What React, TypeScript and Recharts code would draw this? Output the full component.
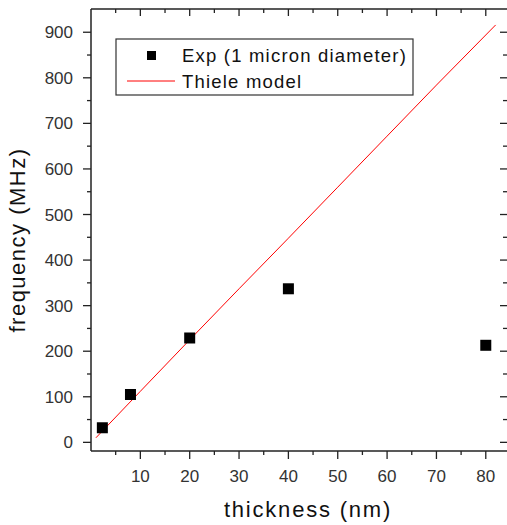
import { ComposedChart, Line, Scatter, XAxis, YAxis } from 'recharts';

const thickness = [2.3, 8, 20, 40, 80];
const freqExp = [32, 105, 229, 337, 213];

const modelThickness = [1, 10, 20, 30, 40, 50, 60, 70, 82];
const modelFreq = [10, 112, 225, 337, 448, 560, 672, 784, 916];

const xTicks = [5, 10, 15, 20, 25, 30, 35, 40, 45, 50, 55, 60, 65, 70, 75, 80];
const yTicks = [0, 50, 100, 150, 200, 250, 300, 350, 400, 450, 500, 550, 600, 650, 700, 750, 800, 850, 900];

const X_DOMAIN = [0, 84.3];
const Y_DOMAIN = [-19, 951];

const expData = thickness.map((x, i) => ({ x, y: freqExp[i] }));
const modelData = modelThickness.map((x, i) => ({ x, y: modelFreq[i] }));

const FONT = '"Liberation Sans", Arial, sans-serif';
const AXIS = '#222';

// plot box (same as chart margins / axis sizes below)
const PLOT = { left: 91, top: 9, right: 507, bottom: 451 };
const sx = (v: number) => PLOT.left + ((v - X_DOMAIN[0]) / (X_DOMAIN[1] - X_DOMAIN[0])) * (PLOT.right - PLOT.left);
const sy = (v: number) => PLOT.bottom - ((v - Y_DOMAIN[0]) / (Y_DOMAIN[1] - Y_DOMAIN[0])) * (PLOT.bottom - PLOT.top);

const BottomTick = ({ x, y, payload }: any) => {
  const major = payload.value % 10 === 0;
  return (
    <g>
      <line x1={x} x2={x} y1={y} y2={y + (major ? 8 : 4)} stroke={AXIS} strokeWidth={1.3} />
      {major && (
        <text x={x} y={y + 31} textAnchor="middle" fontSize={17} fill="#333" fontFamily={FONT}>
          {payload.value}
        </text>
      )}
    </g>
  );
};

const LeftTick = ({ x, y, payload }: any) => {
  const major = payload.value % 100 === 0;
  return (
    <g>
      <line x1={x} x2={x - (major ? 8 : 4)} y1={y} y2={y} stroke={AXIS} strokeWidth={1.3} />
      {major && (
        <text x={x - 18} y={y} dy="0.36em" textAnchor="end" fontSize={17} fill="#333" fontFamily={FONT}>
          {payload.value}
        </text>
      )}
    </g>
  );
};

const SquareDot = (props: any) => {
  const { cx, cy } = props;
  return <rect x={cx - 5.5} y={cy - 5.5} width={11} height={11} fill="#000" />;
};

const layer = { position: 'absolute' as const, left: 0, top: 0, pointerEvents: 'none' as const };

export default function App() {
  return (
    <div style={{ position: 'absolute', left: 0, top: 0, width: 507, height: 525, background: '#fff' }}>
      <ComposedChart
        width={507}
        height={525}
        margin={{ top: PLOT.top, right: 0, bottom: 0, left: 0 }}
      >
        <XAxis
          dataKey="x"
          type="number"
          domain={X_DOMAIN}
          ticks={xTicks}
          interval={0}
          height={525 - PLOT.bottom}
          tickSize={0}
          tickMargin={0}
          tickLine={false}
          tick={<BottomTick />}
          axisLine={{ stroke: AXIS, strokeWidth: 1.5 }}
          allowDataOverflow
        />
        <YAxis
          type="number"
          domain={Y_DOMAIN}
          ticks={yTicks}
          interval={0}
          width={PLOT.left}
          tickSize={0}
          tickMargin={0}
          tickLine={false}
          tick={<LeftTick />}
          axisLine={{ stroke: AXIS, strokeWidth: 1.5 }}
          allowDataOverflow
        />
        <Line
          data={modelData}
          dataKey="y"
          type="linear"
          stroke="#ff0000"
          strokeWidth={1}
          dot={false}
          isAnimationActive={false}
        />
        <Scatter data={expData} dataKey="y" shape={<SquareDot />} isAnimationActive={false} />
      </ComposedChart>

      <svg width={507} height={525} style={layer} fontFamily={FONT}>
        {/* top frame with inward ticks */}
        <line x1={PLOT.left} x2={PLOT.right} y1={PLOT.top} y2={PLOT.top} stroke={AXIS} strokeWidth={1.5} />
        {xTicks.map((t) => (
          <line
            key={'t' + t}
            x1={sx(t)}
            x2={sx(t)}
            y1={PLOT.top}
            y2={PLOT.top + (t % 10 === 0 ? 7 : 4)}
            stroke={AXIS}
            strokeWidth={1.3}
          />
        ))}
        {/* right frame ticks (frame line sits on the page edge) */}
        {yTicks.map((t) => (
          <line
            key={'r' + t}
            x1={PLOT.right}
            x2={PLOT.right - (t % 100 === 0 ? 7 : 4)}
            y1={sy(t)}
            y2={sy(t)}
            stroke={AXIS}
            strokeWidth={1.3}
          />
        ))}

        <rect x={116} y={39} width={297} height={56} fill="#fff" stroke="#333" strokeWidth={1.2} />
        <rect x={147} y={51} width={9} height={9} fill="#000" />
        <line x1={127} x2={175} y1={81} y2={81} stroke="#ff0000" strokeWidth={1} />
        <text x={182} y={62} fontSize={18.5} letterSpacing={1.2} fill="#111">
          Exp (1 micron diameter)
        </text>
        <text x={182} y={88} fontSize={18.5} letterSpacing={1.2} fill="#111">
          Thiele model
        </text>
        <text x={308} y={517} textAnchor="middle" fontSize={22} letterSpacing={1.8} fill="#111">
          thickness (nm)
        </text>
        <text
          x={25}
          y={240}
          transform="rotate(-90 25 240)"
          textAnchor="middle"
          fontSize={22}
          letterSpacing={1.5}
          fill="#111"
        >
          frequency (MHz)
        </text>
      </svg>
    </div>
  );
}
